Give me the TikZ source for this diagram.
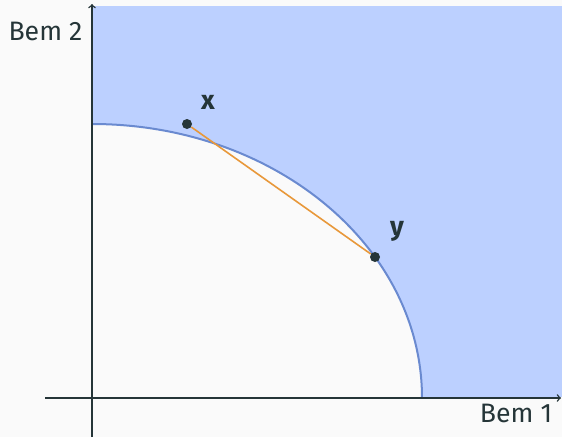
\documentclass[tikz,border=0pt]{standalone}
\usepackage{fontspec}
\setmainfont{Fira Sans}
\usepackage{xcolor}
\definecolor{bgcol}{HTML}{FAFAFA}
\definecolor{regioncol}{HTML}{BCD0FF}
\definecolor{curvecol}{HTML}{6A8AD0}
\definecolor{segcol}{HTML}{E8983A}
\definecolor{inkcol}{HTML}{253538}

\begin{document}
\begin{tikzpicture}[x=0.75pt, y=0.75pt, every node/.style={inner sep=1pt, text=inkcol, font=\fontsize{20}{22}\selectfont},
  axis/.style={draw=inkcol, line width=1.1pt, ->},
  bundle/.style={circle, fill=inkcol, inner sep=0pt, minimum size=7.5pt}]
\fill[bgcol] (0,0) rectangle (562,437);
\useasboundingbox (0,0) rectangle (562,437);
\coordinate (O) at (92,39);
\coordinate (top) at (92,313);
\fill[regioncol] (93,431) rectangle (562,40);
\fill[bgcol] (O) -- (top) arc[start angle=90, end angle=0, x radius=330, y radius=274] -- cycle;
\draw[curvecol, line width=1.5pt] (top) arc[start angle=90, end angle=0, x radius=330, y radius=274];
\draw[axis] (45,39) -- (561,39);
\draw[axis] (92,0) -- (92,433);
\node[bundle] (x) at (187,313) {};
\node[bundle] (y) at (375,180) {};
\draw[segcol, line width=1.2pt] (x) -- (y);
\node[font=\fontsize{20}{22}\selectfont\bfseries] (xl) at (208,335) {x};
\node[font=\fontsize{20}{22}\selectfont\bfseries] (yl) at (397,206) {y};
\node[anchor=east] (good2) at (84,406) {Bem 2};
\node (good1) at (516,24) {Bem 1};
\end{tikzpicture}
\end{document}
